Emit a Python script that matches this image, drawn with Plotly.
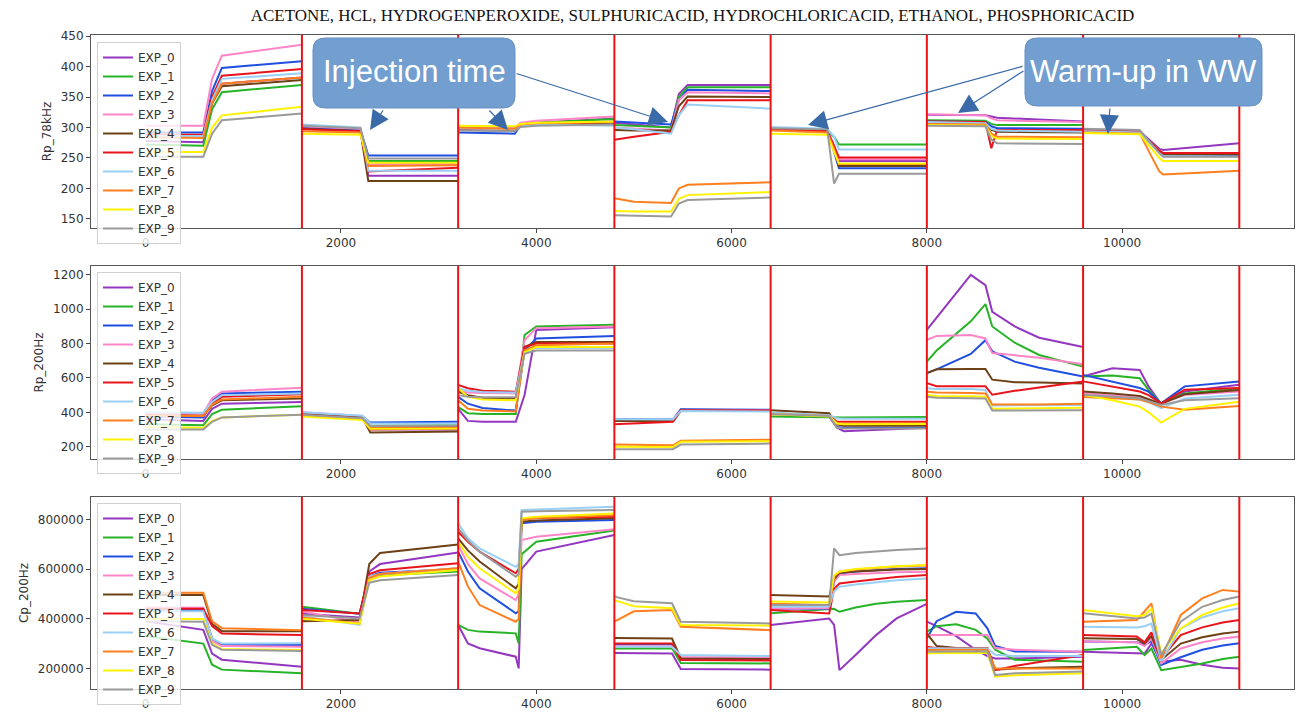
import plotly.graph_objects as go

# ---------------- data ----------------
exp_names = ["EXP_0", "EXP_1", "EXP_2", "EXP_3", "EXP_4",
             "EXP_5", "EXP_6", "EXP_7", "EXP_8", "EXP_9"]
exp_colors = ["#9437c0", "#27b327", "#1f4fe0", "#ff85c8", "#6e4015",
              "#e8141c", "#9ad0f5", "#ff7f1e", "#fff200", "#9a9a9a"]
boundaries = [1600, 3200, 4800, 6400, 8000, 9600, 11200]
x_ticks = [0, 2000, 4000, 6000, 8000, 10000]
title_text = "ACETONE, HCL, HYDROGENPEROXIDE, SULPHURICACID, HYDROCHLORICACID, ETHANOL, PHOSPHORICACID"

# ---- Rp_78kHz (rows = EXP_0 .. EXP_9) ----
rp78_t0 = [0, 590, 680, 780, 1600]
rp78_v0 = [[278, 276, 340, 372, 382], [272, 270, 330, 358, 370], [292, 292, 360, 398, 409],
           [303, 303, 380, 418, 436], [285, 285, 340, 368, 378], [288, 288, 350, 385, 396],
           [286, 286, 345, 380, 389], [284, 283, 340, 372, 382], [260, 260, 300, 320, 334],
           [252, 252, 290, 312, 323]]
rp78_t1 = [1600, 2200, 2280, 3200]
rp78_v1 = [[300, 296, 221, 221], [298, 295, 245, 245], [300, 296, 254, 254], [302, 298, 240, 240],
           [298, 294, 212, 212], [297, 294, 228, 234], [305, 300, 229, 229], [294, 292, 237, 238],
           [290, 288, 242, 242], [303, 299, 249, 249]]
rp78_t2 = [3200, 3780, 3840, 4000, 4800]
rp78_v2 = [[298, 298, 305, 308, 315], [298, 297, 305, 308, 314], [292, 290, 304, 306, 310],
           [300, 300, 308, 311, 318], [298, 296, 304, 306, 308], [298, 297, 304, 306, 309],
           [299, 297, 303, 305, 303], [300, 298, 305, 307, 309], [303, 302, 306, 308, 310],
           [295, 294, 301, 303, 305]]
rp78_t3 = [4800, 5000, 5380, 5460, 5550, 6400]
rp78_v3 = [[308, 305, 300, 355, 370, 370], [304, 303, 300, 350, 366, 366], [310, 308, 305, 345, 362, 360],
           [300, 298, 295, 345, 358, 356], [296, 295, 295, 335, 351, 350], [280, 285, 293, 320, 345, 345],
           [300, 297, 290, 320, 338, 331], [184, 178, 176, 200, 206, 210], [163, 162, 162, 183, 189, 194],
           [156, 155, 154, 175, 181, 185]]
rp78_t4 = [6400, 6980, 7050, 7100, 8000]
rp78_v4 = [[298, 295, 270, 245, 245], [297, 294, 285, 272, 272], [298, 295, 260, 233, 233],
           [299, 296, 270, 248, 248], [297, 294, 265, 237, 237], [297, 294, 270, 251, 251],
           [301, 298, 285, 264, 264], [295, 292, 265, 240, 240], [290, 288, 260, 241, 241],
           [299, 297, 208, 224, 224]]
rp78_t5 = [8000, 8600, 8660, 8720, 9600]
rp78_v5 = [[321, 320, 318, 316, 310], [312, 311, 306, 304, 304], [310, 309, 302, 299, 298],
           [322, 320, 315, 312, 309], [306, 305, 296, 293, 292], [310, 309, 266, 296, 296],
           [309, 307, 298, 295, 293], [306, 305, 290, 285, 284], [304, 303, 286, 282, 281],
           [303, 302, 280, 274, 273]]
rp78_t6 = [9600, 10180, 10380, 10420, 11200]
rp78_v6 = [[296, 294, 265, 263, 274], [294, 292, 262, 258, 256], [293, 291, 260, 256, 255],
           [294, 292, 262, 258, 257], [293, 291, 260, 256, 256], [295, 293, 262, 258, 258],
           [294, 292, 258, 253, 252], [292, 290, 228, 223, 229], [291, 289, 250, 245, 245],
           [298, 296, 258, 252, 252]]

# ---- Rp_200Hz ----
rp200_t0 = [0, 590, 680, 780, 1600]
rp200_v0 = [[360, 350, 420, 450, 460], [330, 325, 390, 415, 435], [375, 370, 470, 510, 520],
            [395, 395, 480, 520, 543], [380, 380, 440, 470, 480], [385, 380, 450, 490, 505],
            [400, 398, 460, 500, 510], [380, 378, 445, 475, 490], [315, 310, 350, 370, 386],
            [300, 300, 345, 370, 386]]
rp200_t1 = [1600, 2220, 2300, 3200]
rp200_v1 = [[390, 365, 300, 300], [385, 360, 322, 325], [395, 375, 340, 345], [400, 378, 315, 315],
            [390, 370, 282, 288], [385, 365, 310, 315], [400, 380, 335, 335], [380, 360, 300, 305],
            [375, 355, 305, 305], [385, 365, 320, 322]]
rp200_t2 = [3200, 3300, 3450, 3790, 3880, 4000, 4800]
rp200_v2 = [[420, 350, 345, 345, 500, 880, 895], [430, 395, 390, 390, 850, 900, 910],
            [490, 450, 425, 410, 760, 830, 845], [525, 515, 512, 510, 820, 890, 900],
            [520, 500, 485, 480, 780, 810, 810], [560, 540, 525, 520, 780, 800, 800],
            [540, 525, 518, 515, 750, 775, 775], [470, 420, 410, 405, 760, 790, 800],
            [540, 490, 475, 470, 750, 780, 780], [500, 490, 488, 488, 740, 760, 760]]
rp200_t3 = [4800, 5400, 5480, 6400]
rp200_v3 = [[355, 355, 415, 412], [350, 350, 410, 410], [360, 358, 418, 415], [355, 355, 412, 410],
            [350, 350, 410, 408], [330, 345, 410, 410], [360, 358, 408, 405], [212, 208, 235, 240],
            [200, 198, 228, 232], [185, 185, 212, 218]]
rp200_t4 = [6400, 7000, 7080, 7150, 8000]
rp200_v4 = [[390, 375, 310, 290, 310], [375, 370, 372, 370, 372], [395, 380, 315, 310, 310],
            [395, 380, 330, 330, 330], [412, 395, 330, 322, 322], [392, 380, 345, 345, 345],
            [398, 383, 365, 362, 362], [390, 378, 335, 335, 335], [388, 375, 335, 330, 332],
            [390, 378, 310, 305, 305]]
rp200_t5 = [8000, 8100, 8450, 8600, 8670, 8900, 9150, 9600]
rp200_v5 = [[880, 950, 1200, 1140, 985, 900, 834, 780], [695, 760, 930, 1030, 900, 805, 734, 666],
            [628, 650, 740, 820, 755, 695, 660, 608], [821, 845, 850, 830, 745, 730, 718, 680],
            [628, 650, 652, 652, 590, 575, 574, 568], [570, 552, 551, 551, 502, 525, 545, 580],
            [540, 535, 535, 530, 440, 440, 440, 442], [520, 515, 512, 510, 445, 445, 446, 450],
            [500, 495, 493, 490, 420, 422, 424, 427], [490, 485, 482, 480, 410, 410, 411, 412]]
rp200_t6 = [9600, 9900, 10180, 10270, 10400, 10640, 11200]
rp200_v6 = [[608, 657, 647, 551, 448, 521, 560], [608, 614, 598, 530, 452, 510, 540],
            [618, 580, 541, 520, 452, 551, 580], [512, 500, 485, 470, 450, 500, 521],
            [521, 510, 495, 475, 450, 505, 530], [580, 550, 521, 500, 452, 532, 541],
            [502, 490, 475, 460, 424, 480, 502], [489, 480, 474, 460, 433, 415, 436],
            [502, 470, 433, 400, 340, 420, 462], [502, 490, 480, 465, 443, 470, 482]]

# ---- Cp_200Hz ----
cp_t0 = [0, 590, 680, 780, 1600]
cp_v0 = [[390000, 355000, 260000, 235000, 207000], [330000, 300000, 215000, 195000, 180000],
         [435000, 435000, 320000, 295000, 294000], [445000, 444000, 310000, 290000, 287000],
         [495000, 495000, 380000, 350000, 350000], [440000, 440000, 370000, 340000, 334000],
         [430000, 430000, 320000, 300000, 301000], [505000, 505000, 390000, 362000, 354000],
         [400000, 399000, 300000, 278000, 274000], [390000, 388000, 295000, 275000, 270000]]
cp_t1 = [1600, 2190, 2290, 2400, 3200]
cp_v1 = [[420000, 405000, 590000, 620000, 667000], [448000, 420000, 560000, 575000, 590000],
         [440000, 420000, 570000, 585000, 600000], [430000, 385000, 560000, 580000, 603000],
         [390000, 395000, 620000, 665000, 699000], [435000, 421000, 580000, 595000, 623000],
         [410000, 375000, 570000, 580000, 603000], [405000, 381000, 565000, 580000, 603000],
         [400000, 380000, 555000, 570000, 596000], [415000, 401000, 545000, 555000, 576000]]
cp_t2 = [3200, 3300, 3420, 3790, 3820, 3850, 4000, 4800]
cp_v2 = [[375000, 300000, 281000, 247000, 200000, 600000, 670000, 737000],
         [375000, 355000, 348000, 341000, 300000, 660000, 710000, 755000],
         [670000, 590000, 522000, 422000, 430000, 784000, 790000, 797000],
         [697000, 620000, 562000, 475000, 500000, 717000, 730000, 760000],
         [723000, 675000, 630000, 522000, 540000, 791000, 795000, 804000],
         [750000, 710000, 670000, 583000, 600000, 800000, 805000, 810000],
         [784000, 725000, 683000, 609000, 620000, 838000, 840000, 851000],
         [630000, 530000, 455000, 388000, 400000, 797000, 805000, 817000],
         [710000, 650000, 603000, 502000, 520000, 804000, 810000, 824000],
         [764000, 715000, 670000, 569000, 580000, 831000, 833000, 838000]]
cp_t3 = [4800, 5000, 5390, 5480, 6400]
cp_v3 = [[262000, 262000, 260000, 198000, 195000], [280000, 281000, 281000, 222000, 220000],
         [297000, 297000, 297000, 240000, 236000], [290000, 290000, 288000, 245000, 245000],
         [322000, 321000, 320000, 240000, 238000], [300000, 301000, 300000, 234000, 232000],
         [287000, 287000, 287000, 254000, 250000], [388000, 430000, 435000, 368000, 354000],
         [475000, 450000, 442000, 375000, 372000], [489000, 470000, 462000, 388000, 381000]]
cp_t4 = [6400, 7000, 7050, 7105, 7270, 7480, 7690, 8000]
cp_v4 = [[375000, 401000, 375000, 193000, 254000, 334000, 401000, 460000],
         [422000, 440000, 440000, 428000, 445000, 460000, 468000, 475000],
         [440000, 440000, 550000, 582000, 590000, 596000, 600000, 603000],
         [440000, 442000, 550000, 576000, 580000, 584000, 587000, 589000],
         [495000, 489000, 560000, 585000, 590000, 595000, 598000, 600000],
         [435000, 421000, 520000, 542000, 550000, 560000, 568000, 576000],
         [448000, 450000, 510000, 529000, 538000, 548000, 555000, 562000],
         [460000, 455000, 570000, 590000, 598000, 605000, 610000, 614000],
         [469000, 465000, 575000, 589000, 600000, 606000, 611000, 616000],
         [455000, 455000, 683000, 656000, 665000, 672000, 677000, 683000]]
cp_t5 = [8000, 8100, 8300, 8500, 8620, 8700, 8900, 9600]
cp_v5 = [[388000, 370000, 330000, 275000, 250000, 240000, 240000, 247000],
         [348000, 370000, 378000, 355000, 320000, 275000, 235000, 227000],
         [321000, 390000, 428000, 421000, 361000, 290000, 268000, 267000],
         [334000, 334000, 334000, 334000, 334000, 282000, 275000, 267000],
         [341000, 290000, 282000, 281000, 281000, 195000, 200000, 207000],
         [287000, 281000, 281000, 281000, 281000, 193000, 210000, 254000],
         [281000, 280000, 280000, 280000, 280000, 255000, 250000, 250000],
         [274000, 275000, 275000, 275000, 275000, 200000, 200000, 200000],
         [260000, 262000, 262000, 262000, 262000, 167000, 172000, 180000],
         [267000, 268000, 268000, 268000, 268000, 173000, 180000, 187000]]
cp_t6 = [9600, 10150, 10230, 10300, 10400, 10600, 10820, 11030, 11200]
cp_v6 = [[267000, 260000, 260000, 300000, 227000, 235000, 215000, 203000, 200000],
         [274000, 287000, 254000, 280000, 193000, 205000, 220000, 238000, 247000],
         [308000, 305000, 295000, 310000, 214000, 245000, 275000, 292000, 301000],
         [308000, 305000, 290000, 320000, 220000, 280000, 305000, 320000, 328000],
         [321000, 318000, 300000, 330000, 234000, 300000, 325000, 340000, 348000],
         [334000, 328000, 305000, 345000, 240000, 334000, 365000, 385000, 395000],
         [368000, 365000, 370000, 380000, 230000, 360000, 405000, 430000, 442000],
         [388000, 395000, 430000, 462000, 240000, 415000, 482000, 516000, 509000],
         [435000, 410000, 415000, 440000, 260000, 361000, 415000, 445000, 462000],
         [422000, 401000, 405000, 420000, 254000, 388000, 448000, 475000, 489000]]

panels = [
    ("Rp_78kHz", [rp78_t0, rp78_t1, rp78_t2, rp78_t3, rp78_t4, rp78_t5, rp78_t6],
     [rp78_v0, rp78_v1, rp78_v2, rp78_v3, rp78_v4, rp78_v5, rp78_v6], [150, 200, 250, 300, 350, 400, 450]),
    ("Rp_200Hz", [rp200_t0, rp200_t1, rp200_t2, rp200_t3, rp200_t4, rp200_t5, rp200_t6],
     [rp200_v0, rp200_v1, rp200_v2, rp200_v3, rp200_v4, rp200_v5, rp200_v6], [200, 400, 600, 800, 1000, 1200]),
    ("Cp_200Hz", [cp_t0, cp_t1, cp_t2, cp_t3, cp_t4, cp_t5, cp_t6],
     [cp_v0, cp_v1, cp_v2, cp_v3, cp_v4, cp_v5, cp_v6], [200000, 400000, 600000, 800000]),
]

# ---------------- layout geometry (pixels) ----------------
W, H = 1296, 714
L, R, T, B = 91, 1294, 35, 689
panel_px = [(35, 228), (266, 459), (497, 689)]
legend_top_px = [42, 272, 503]


def px2paper(px, py):
    return (px - L) / (R - L), (B - py) / (B - T)


fig = go.Figure()
tick_font = dict(family="DejaVu Sans", size=12, color="#333333")

for p, (ylabel, ts, vs, yticks) in enumerate(panels):
    sfx = "" if p == 0 else str(p + 1)
    for i in range(len(exp_names)):
        xs, ys = [], []
        for t, v in zip(ts, vs):
            xs += t + [None]
            ys += v[i] + [None]
        fig.add_trace(go.Scatter(
            x=xs, y=ys, mode="lines", name=exp_names[i],
            line=dict(color=exp_colors[i], width=2),
            xaxis="x" + sfx, yaxis="y" + sfx,
            legend="legend" + sfx, connectgaps=False, hoverinfo="skip"))

    top_py, bot_py = panel_px[p]
    y0 = (B - bot_py) / (B - T)
    y1 = (B - top_py) / (B - T)
    fig.layout["xaxis" + sfx] = dict(
        domain=[0, 1], anchor="y" + sfx, range=[-560, 11760], automargin=False,
        tickvals=x_ticks, ticktext=[str(v) for v in x_ticks],
        ticks="outside", ticklen=4, tickcolor="#444", tickfont=tick_font,
        showline=True, linecolor="#555555", linewidth=1, mirror=True,
        showgrid=False, zeroline=False)
    rng = {0: [135, 452], 1: [128, 1252], 2: [117000, 890000]}[p]
    fig.layout["yaxis" + sfx] = dict(
        domain=[y0, y1], anchor="x" + sfx, range=rng, automargin=False,
        tickvals=yticks, ticktext=[str(v) for v in yticks],
        ticks="outside", ticklen=4, tickcolor="#444", tickfont=tick_font,
        showline=True, linecolor="#555555", linewidth=1, mirror=True,
        showgrid=False, zeroline=False,
        title=dict(text=ylabel, font=dict(family="DejaVu Sans", size=12, color="#333333"), standoff=6))
    lx, ly = px2paper(97, legend_top_px[p])
    fig.layout["legend" + sfx] = dict(
        x=lx, y=ly, xanchor="left", yanchor="top",
        bgcolor="rgba(255,255,255,0.8)", bordercolor="#d0d0d0", borderwidth=1,
        font=dict(family="DejaVu Sans", size=12, color="#333333"),
        itemwidth=30, tracegroupgap=0)
    for bx in boundaries:
        fig.add_shape(type="line", xref="x" + sfx, yref="y" + sfx + " domain",
                      x0=bx, x1=bx, y0=0, y1=1, line=dict(color="#ee1111", width=2), layer="above")


# ---------------- callouts ----------------
def rounded_box(x0, y0, x1, y1, r):
    def P(a, b):
        u, v = px2paper(a, b)
        return f"{u:.5f},{v:.5f}"
    return (f"M{P(x0 + r, y0)} L{P(x1 - r, y0)} Q{P(x1, y0)} {P(x1, y0 + r)} "
            f"L{P(x1, y1 - r)} Q{P(x1, y1)} {P(x1 - r, y1)} L{P(x0 + r, y1)} "
            f"Q{P(x0, y1)} {P(x0, y1 - r)} L{P(x0, y0 + r)} Q{P(x0, y0)} {P(x0 + r, y0)} Z")


callouts = [
    ("Injection time", (313, 38, 515, 108),
     [((370, 130), (384, 109)), ((508, 130), (488, 109)), ((668, 122), (515, 73))]),
    ("Warm-up in WW", (1025, 38, 1262, 106),
     [((808, 125), (1024, 66)), ((958, 113), (1025, 70)), ((1108, 134), (1110, 107))]),
]

for text, (bx0, by0, bx1, by1), arrows in callouts:
    for (tx, ty), (sx, sy) in arrows:
        u, v = px2paper(tx, ty)
        fig.add_annotation(x=u, y=v, xref="paper", yref="paper", text="",
                           showarrow=True, ax=sx - tx, ay=sy - ty,
                           arrowhead=2, arrowsize=3.2, arrowwidth=1.2,
                           arrowcolor="#3a6aa8")
    fig.add_shape(type="path", xref="paper", yref="paper",
                  path=rounded_box(bx0, by0, bx1, by1, 12),
                  fillcolor="#729fcf", line=dict(color="#6790c4", width=1), layer="above")
    cu, cv = px2paper((bx0 + bx1) / 2, (by0 + by1) / 2 - 1)
    fig.add_annotation(x=cu, y=cv, xref="paper", yref="paper", text=text, showarrow=False,
                       font=dict(family="Liberation Sans", size=31, color="white"),
                       xanchor="center", yanchor="middle")

fig.update_layout(
    width=W, height=H,
    margin=dict(l=L, r=W - R, t=T, b=H - B),
    paper_bgcolor="white", plot_bgcolor="white",
    title=dict(text=title_text, x=(L + R) / 2 / W, xanchor="center", y=1 - 15 / H, yanchor="middle",
               font=dict(family="Liberation Serif", size=17, color="#111111")),
    showlegend=True,
)

fig.write_html("out.html", config={"displayModeBar": False},
               post_script="document.body.style.margin='0px';document.body.style.overflow='hidden';")
